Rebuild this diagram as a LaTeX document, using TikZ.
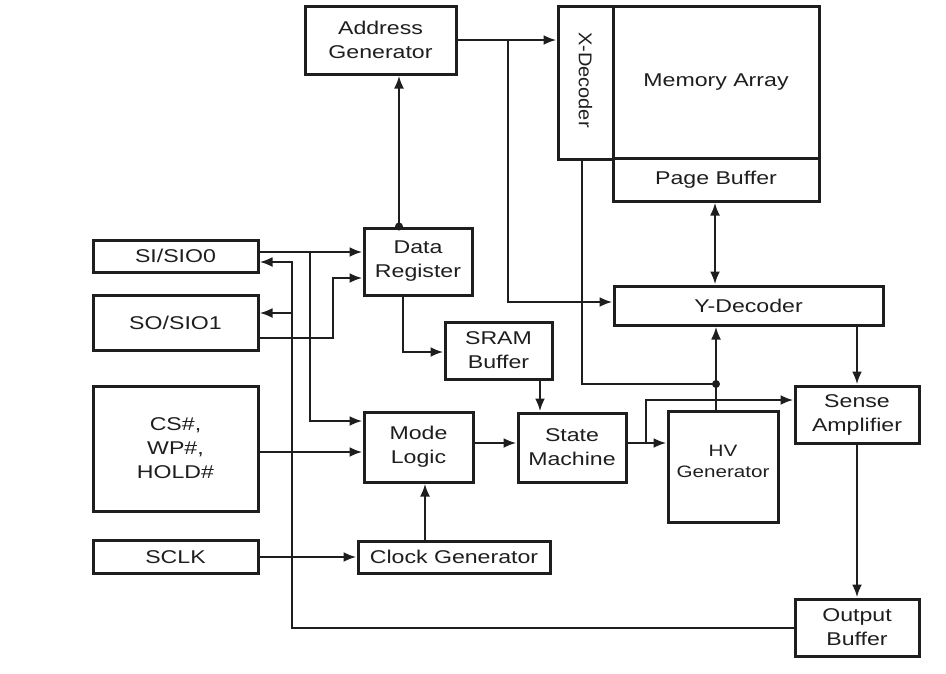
\documentclass[tikz,border=0pt]{standalone}
\usepackage{fontspec}
\setmainfont{Liberation Sans}[FakeStretch=1.25]
\newfontfamily\xdfont{Liberation Sans}[FakeStretch=1.08]
\usetikzlibrary{arrows.meta}
\definecolor{ink}{HTML}{1E1E1E}
\tikzset{
  blk/.style={draw=ink, line width=3pt, inner sep=0pt, align=center, text=ink,
     font=\fontsize{18.5}{24}\selectfont},
  conn/.style={draw=ink, line width=2.6pt},
  arr/.style={conn, -{Latex[length=13pt,width=10pt]}},
  darr/.style={conn, {Latex[length=13pt,width=10pt]}-{Latex[length=13pt,width=10pt]}},
  jdot/.style={fill=ink, circle, inner sep=0pt, minimum size=8pt}
}
\begin{document}
\begin{tikzpicture}[x=1pt,y=-1pt]
\useasboundingbox (0,0) rectangle (946,673);
% boxes
\node[blk, minimum width=151, minimum height=68] (addr) at (380.5,40) {Address\\Generator};
\node[blk, minimum width=55, minimum height=153] (xdec) at (585.5,82.5) {};
\node[text=ink, rotate=-90, font=\xdfont\fontsize{18.5}{24}\selectfont] (xdect) at (585.5,80) {X-Decoder};
\node[blk, minimum width=206, minimum height=43] (page) at (716,179.5) {Page Buffer};
\node[blk, minimum width=206, minimum height=152] (mem) at (716,82) {Memory Array};
\node[blk, minimum width=165, minimum height=32] (si) at (175.5,256) {SI/SIO0};
\node[blk, minimum width=165, minimum height=55] (so) at (175.5,322.5) {SO/SIO1};
\node[blk, minimum width=108, minimum height=67] (dr) at (418,261.5) {Data\\Register};
\node[blk, minimum width=269, minimum height=39] (ydec) at (748.5,305.5) {Y-Decoder};
\node[blk, minimum width=107, minimum height=57] (sram) at (498.5,350.5) {SRAM\\Buffer};
\node[blk, minimum width=165, minimum height=125] (cs) at (175.5,448.5) {CS\#,\\WP\#,\\HOLD\#};
\node[blk, minimum width=109, minimum height=70] (mode) at (418.5,447) {Mode\\Logic};
\node[blk, minimum width=108, minimum height=69] (sm) at (572,447.5) {State\\Machine};
\node[blk, minimum width=110, minimum height=111] (hv) at (723,466.5) {};
\node[text=ink, align=center, font=\fontsize{16.5}{21}\selectfont] (hvt) at (723,461) {HV\\Generator};
\node[blk, minimum width=124, minimum height=57] (sense) at (857,414.5) {Sense\\Amplifier};
\node[blk, minimum width=165, minimum height=33] (sclk) at (175.5,557) {SCLK};
\node[blk, minimum width=192, minimum height=32] (clk) at (454,557) {Clock Generator};
\node[blk, minimum width=124, minimum height=57] (out) at (857,627.5) {Output\\Buffer};
% junctions
\coordinate (jdr) at (399,0 |- dr.north);
\coordinate (jx) at (716,384);
\node[jdot] (jdrdot) at (jdr) {};
\node[jdot] (jxdot) at (jx) {};
% connectors
\draw[arr] (jdr) -- (399,0 |- addr.south);
\draw[arr] (addr.east) -- (addr.east -| xdec.west);
\draw[arr] (508,0 |- addr.east) -- (508,302) -- (ydec.west |- 0,302);
\draw[conn] (582,0 |- xdec.south) -- (582,384) -- (jx);
\draw[arr] (716,0 |- hv.north) -- (716,0 |- ydec.south);
\draw[darr] (715,0 |- page.south) -- (715,0 |- ydec.north);
\draw[arr] (857,0 |- ydec.south) -- (sense.north);
\draw[arr] (sense.south) -- (out.north);
\draw[arr] (out.west |- 0,628) -- (292,628) -- (292,262) -- (si.east |- 0,262);
\draw[arr] (292,313) -- (so.east |- 0,313);
\draw[arr] (si.east |- 0,252) -- (dr.west |- 0,252);
\draw[arr] (310,252) -- (310,421) -- (mode.west |- 0,421);
\draw[arr] (so.east |- 0,338) -- (333,338) -- (333,278) -- (dr.west |- 0,278);
\draw[arr] (403,0 |- dr.south) -- (403,352) -- (sram.west |- 0,352);
\draw[arr] (540,0 |- sram.south) -- (540,0 |- sm.north);
\draw[arr] (cs.east |- 0,452) -- (mode.west |- 0,452);
\draw[arr] (mode.east |- 0,443) -- (sm.west |- 0,443);
\draw[arr] (sm.east |- 0,443) -- (hv.west |- 0,443);
\draw[arr] (646,443) -- (646,400) -- (sense.west |- 0,400);
\draw[arr] (sclk.east) -- (sclk.east -| clk.west);
\draw[arr] (425,0 |- clk.north) -- (425,0 |- mode.south);
\end{tikzpicture}
\end{document}
